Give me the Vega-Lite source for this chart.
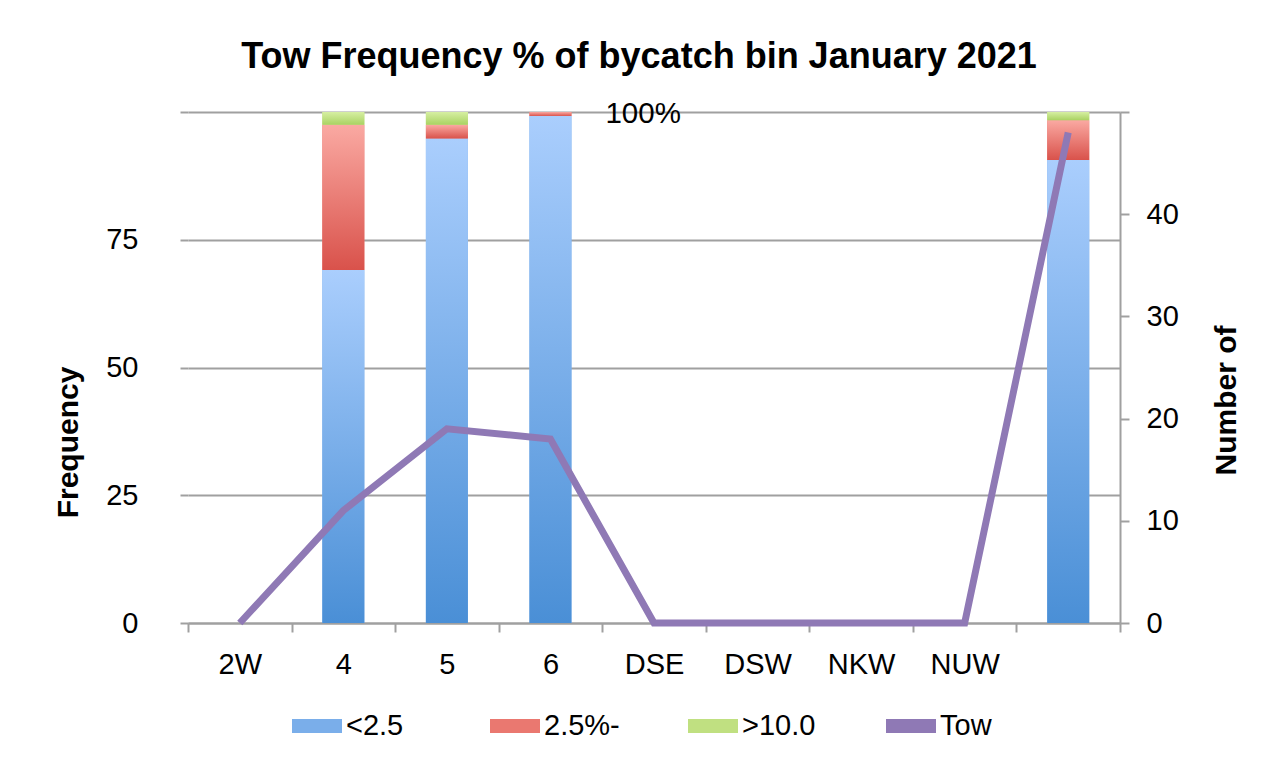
{
  "$schema": "https://vega.github.io/schema/vega-lite/v6.json",
  "width": 932,
  "height": 511,
  "autosize": {"type": "none"},
  "padding": {"left": 188, "top": 112, "right": 158, "bottom": 143},
  "background": "white",
  "config": {
    "font": "Liberation Sans",
    "view": {"stroke": null},
    "axis": {"labelFont": "Liberation Sans", "titleFont": "Liberation Sans", "labelColor": "black", "titleColor": "black"}
  },
  "title": {
    "text": "Tow Frequency % of bycatch bin January 2021",
    "font": "Liberation Sans",
    "fontSize": 36,
    "fontWeight": "bold",
    "color": "black",
    "anchor": "middle",
    "offset": 23,
    "dx": -15
  },
  "datasets": {
    "bars": [
      {"cat": "4", "series": "<2.5", "ord": 1, "pct": 69.1},
      {"cat": "4", "series": "2.5%-", "ord": 2, "pct": 28.4},
      {"cat": "4", "series": ">10.0", "ord": 3, "pct": 2.5},
      {"cat": "5", "series": "<2.5", "ord": 1, "pct": 94.8},
      {"cat": "5", "series": "2.5%-", "ord": 2, "pct": 2.7},
      {"cat": "5", "series": ">10.0", "ord": 3, "pct": 2.5},
      {"cat": "6", "series": "<2.5", "ord": 1, "pct": 99.2},
      {"cat": "6", "series": "2.5%-", "ord": 2, "pct": 0.8},
      {"cat": "6", "series": ">10.0", "ord": 3, "pct": 0},
      {"cat": " ", "series": "<2.5", "ord": 1, "pct": 90.6},
      {"cat": " ", "series": "2.5%-", "ord": 2, "pct": 7.8},
      {"cat": " ", "series": ">10.0", "ord": 3, "pct": 1.6}
    ],
    "tows": [
      {"cat": "2W", "tows": 0},
      {"cat": "4", "tows": 11},
      {"cat": "5", "tows": 19},
      {"cat": "6", "tows": 18},
      {"cat": "DSE", "tows": 0},
      {"cat": "DSW", "tows": 0},
      {"cat": "NKW", "tows": 0},
      {"cat": "NUW", "tows": 0},
      {"cat": " ", "tows": 48}
    ],
    "note": [
      {"cat": "6", "value": 100, "label": "100%"}
    ]
  },
  "layer": [
    {
      "data": {"name": "bars"},
      "transform": [
        {"stack": "pct", "groupby": ["cat"], "sort": [{"field": "ord", "order": "ascending"}], "as": ["y0", "y1"]}
      ],
      "encoding": {
        "x": {
          "field": "cat",
          "type": "nominal",
          "sort": ["2W", "4", "5", "6", "DSE", "DSW", "NKW", "NUW", " "],
          "scale": {"domain": ["2W", "4", "5", "6", "DSE", "DSW", "NKW", "NUW", " "], "paddingInner": 0, "paddingOuter": 0},
          "axis": {
            "title": null,
            "labelAngle": 0,
            "labelFontSize": 29,
            "labelPadding": 18,
            "tickBand": "extent",
            "tickSize": 9,
            "tickColor": "#a0a0a0",
            "tickWidth": 2,
            "domainColor": "#a0a0a0",
            "domainWidth": 2,
            "grid": false
          }
        },
        "y": {
          "field": "y0",
          "type": "quantitative",
          "scale": {"domain": [0, 100], "nice": false},
          "axis": {
            "title": "Frequency",
            "titleFontSize": 30,
            "titleFontWeight": "bold",
            "titleAngle": 270,
            "titleAlign": "center",
            "titleBaseline": "alphabetic",
            "titleX": -111,
            "titleY": 330,
            "labelFontSize": 29,
            "labelPadding": 42,
            "values": [0, 25, 50, 75, 100],
            "labelExpr": "datum.value == 100 ? '' : datum.label",
            "domain": false,
            "tickSize": 8,
            "tickColor": "#a0a0a0",
            "tickWidth": 2,
            "grid": true,
            "gridColor": "#a0a0a0",
            "gridWidth": 2
          }
        },
        "y2": {"field": "y1"}
      },
      "layer": [
        {
          "mark": {"type": "bar", "width": {"band": 0.4056}},
          "encoding": {
            "color": {
              "field": "series",
              "type": "nominal",
              "scale": {
                "domain": ["<2.5", "2.5%-", ">10.0", "Tow"],
                "range": ["#7aaeea", "#ea7870", "#c0e081", "#8f79b5"]
              },
              "legend": {
                "title": null,
                "orient": "none",
                "direction": "horizontal",
                "legendX": 104,
                "legendY": 589,
                "labelFontSize": 29,
                "labelFont": "Liberation Sans",
                "labelColor": "black",
                "symbolType": "M-1,-0.28H1V0.28H-1Z",
                "symbolSize": 2500,
                "symbolStrokeWidth": 0,
                "symbolOpacity": 1,
                "labelOffset": 4,
                "gridAlign": "all",
                "columnPadding": 68
              }
            }
          }
        },
        {
          "transform": [{"filter": "datum.series == '<2.5'"}],
          "mark": {"type": "bar", "width": {"band": 0.4056}, "fill": {"gradient": "linear", "x1": 0, "y1": 0, "x2": 0, "y2": 1, "stops": [{"offset": 0, "color": "#aacefd"}, {"offset": 1, "color": "#4a8fd6"}]}}
        },
        {
          "transform": [{"filter": "datum.series == '2.5%-'"}],
          "mark": {"type": "bar", "width": {"band": 0.4056}, "fill": {"gradient": "linear", "x1": 0, "y1": 0, "x2": 0, "y2": 1, "stops": [{"offset": 0, "color": "#faa9a2"}, {"offset": 1, "color": "#d9524b"}]}}
        },
        {
          "transform": [{"filter": "datum.series == '>10.0'"}],
          "mark": {"type": "bar", "width": {"band": 0.4056}, "fill": {"gradient": "linear", "x1": 0, "y1": 0, "x2": 0, "y2": 1, "stops": [{"offset": 0, "color": "#d6efa2"}, {"offset": 1, "color": "#a9d262"}]}}
        }
      ]
    },
    {
      "data": {"name": "tows"},
      "mark": {"type": "line", "color": "#8f79b5", "strokeWidth": 7},
      "encoding": {
        "x": {"field": "cat", "type": "nominal", "sort": ["2W", "4", "5", "6", "DSE", "DSW", "NKW", "NUW", " "]},
        "y": {
          "field": "tows",
          "type": "quantitative",
          "scale": {"domain": [0, 50], "nice": false},
          "axis": {
            "orient": "right",
            "title": "Number of",
            "titleAngle": 270,
            "titleAlign": "center",
            "titleBaseline": "alphabetic",
            "titleX": 115,
            "titleY": 288,
            "titleFontSize": 30,
            "titleFontWeight": "bold",
            "labelFontSize": 29,
            "labelPadding": 17,
            "values": [0, 10, 20, 30, 40, 50],
            "labelExpr": "datum.value == 50 ? '' : datum.label",
            "domainColor": "#a0a0a0",
            "domainWidth": 2,
            "tickSize": 9,
            "tickColor": "#a0a0a0",
            "tickWidth": 2,
            "grid": false
          }
        }
      }
    },
    {
      "data": {"name": "note"},
      "mark": {"type": "text", "align": "left", "baseline": "alphabetic", "fontSize": 29.5, "dx": 55, "dy": 11, "font": "Liberation Sans", "color": "black"},
      "encoding": {
        "x": {"field": "cat", "type": "nominal"},
        "y": {"field": "value", "type": "quantitative", "scale": {"domain": [0, 100]}, "axis": null},
        "text": {"field": "label"}
      }
    }
  ],
  "resolve": {"scale": {"y": "independent"}}
}
